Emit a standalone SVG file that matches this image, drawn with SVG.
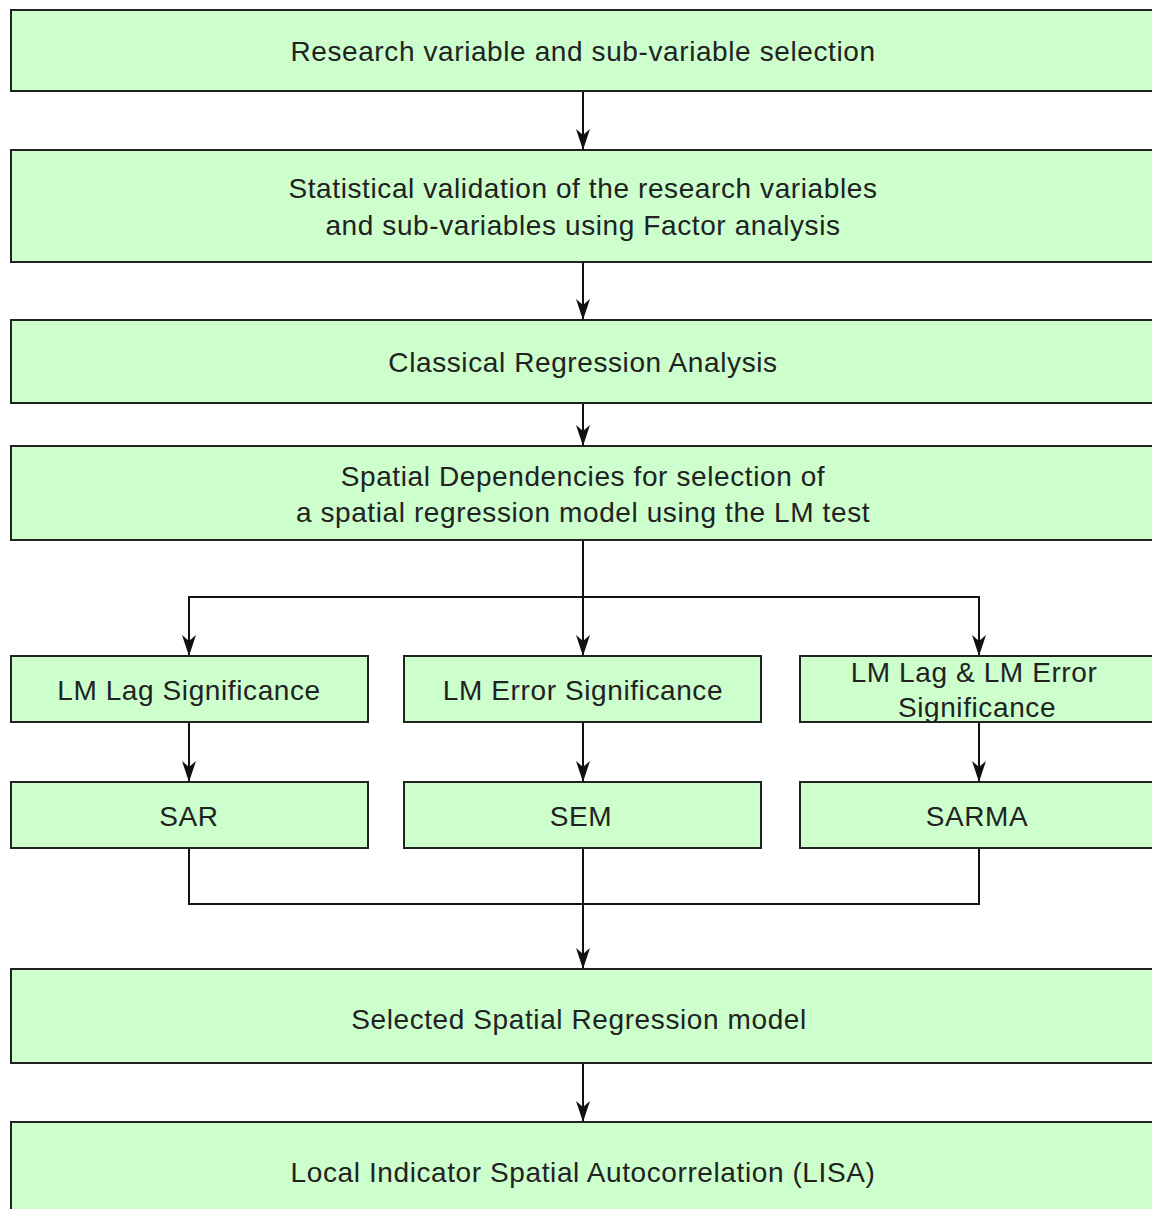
<svg xmlns="http://www.w3.org/2000/svg" width="1152" height="1209" viewBox="0 0 1152 1209">
<style>
.box{fill:#ccffcc;stroke:#222;stroke-width:2}
.t{font-family:"Liberation Sans",Arial,sans-serif;font-size:28px;letter-spacing:0.6px;fill:#222;text-anchor:middle}
.c{fill:none;stroke:#111;stroke-width:2}
</style>
<defs>
<marker id="a" markerWidth="22" markerHeight="16" refX="21" refY="8" orient="auto" markerUnits="userSpaceOnUse" viewBox="0 0 22 16">
<path d="M0,1 L21,8 L0,15 L6,8 Z" fill="#111"/>
</marker>
</defs>
<rect width="1152" height="1209" fill="#fff"/>
<g id="connectors">
<line class="c" x1="583" y1="91" x2="583" y2="150" marker-end="url(#a)"/>
<line class="c" x1="583" y1="262" x2="583" y2="320" marker-end="url(#a)"/>
<line class="c" x1="583" y1="403" x2="583" y2="446" marker-end="url(#a)"/>
<line class="c" x1="583" y1="540" x2="583" y2="656" marker-end="url(#a)"/>
<polyline class="c" points="189,656 189,597 979,597 979,656" />
<line class="c" x1="189" y1="620" x2="189" y2="656" marker-end="url(#a)"/>
<line class="c" x1="979" y1="620" x2="979" y2="656" marker-end="url(#a)"/>
<line class="c" x1="189" y1="722" x2="189" y2="782" marker-end="url(#a)"/>
<line class="c" x1="583" y1="722" x2="583" y2="782" marker-end="url(#a)"/>
<line class="c" x1="979" y1="722" x2="979" y2="782" marker-end="url(#a)"/>
<polyline class="c" points="189,848 189,904 979,904 979,848"/>
<line class="c" x1="583" y1="848" x2="583" y2="969" marker-end="url(#a)"/>
<line class="c" x1="583" y1="1063" x2="583" y2="1122" marker-end="url(#a)"/>
</g>
<g id="n1"><rect class="box" x="11" y="10" width="1150" height="81"/><text class="t" x="583" y="61">Research variable and sub-variable selection</text></g>
<g id="n2"><rect class="box" x="11" y="150" width="1150" height="112"/><text class="t" x="583" y="198">Statistical validation of the research variables</text><text class="t" x="583" y="235">and sub-variables using Factor analysis</text></g>
<g id="n3"><rect class="box" x="11" y="320" width="1150" height="83"/><text class="t" x="583" y="372">Classical Regression Analysis</text></g>
<g id="n4"><rect class="box" x="11" y="446" width="1150" height="94"/><text class="t" x="583" y="486">Spatial Dependencies for selection of</text><text class="t" x="583" y="522">a spatial regression model using the LM test</text></g>
<g id="n5"><rect class="box" x="11" y="656" width="357" height="66"/><text class="t" x="189" y="700">LM Lag Significance</text></g>
<g id="n6"><rect class="box" x="404" y="656" width="357" height="66"/><text class="t" x="583" y="700">LM Error Significance</text></g>
<g id="n7"><rect class="box" x="800" y="656" width="360" height="66"/><text class="t" x="974" y="682">LM Lag &amp; LM Error</text><text class="t" x="977" y="717">Significance</text></g>
<g id="n8"><rect class="box" x="11" y="782" width="357" height="66"/><text class="t" x="189" y="826">SAR</text></g>
<g id="n9"><rect class="box" x="404" y="782" width="357" height="66"/><text class="t" x="581" y="826">SEM</text></g>
<g id="n10"><rect class="box" x="800" y="782" width="360" height="66"/><text class="t" x="977" y="826">SARMA</text></g>
<g id="n11"><rect class="box" x="11" y="969" width="1150" height="94"/><text class="t" x="579" y="1029">Selected Spatial Regression model</text></g>
<g id="n12"><rect class="box" x="11" y="1122" width="1150" height="100"/><text class="t" x="583" y="1182">Local Indicator Spatial Autocorrelation (LISA)</text></g>
</svg>
